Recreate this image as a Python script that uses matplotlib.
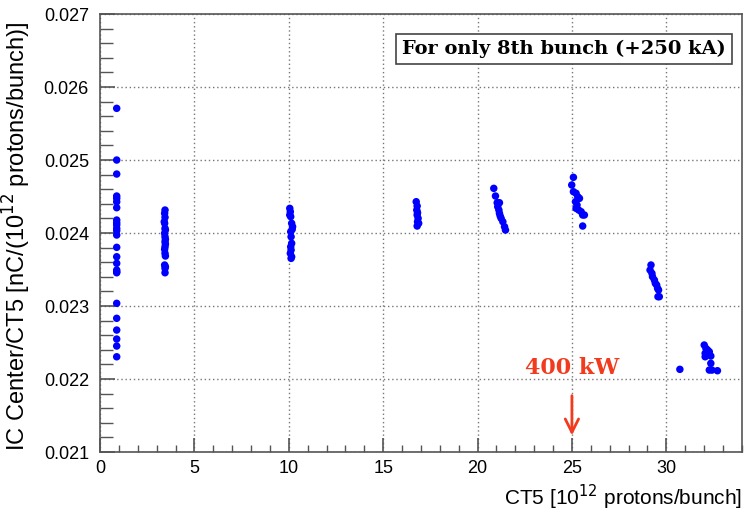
import numpy as np
import matplotlib
matplotlib.use("Agg")
import matplotlib.pyplot as plt
from matplotlib.ticker import MultipleLocator

# CT5 [1e12 protons/bunch] と IC Center/CT5 の値 (クラスタごと)
ct5_c1 = [0.88] * 25
ic_c1 = [0.025708, 0.025000, 0.024808, 0.024507, 0.024475, 0.024428, 0.024347,
         0.024178, 0.024141, 0.024110, 0.024064, 0.024032, 0.023973, 0.023804,
         0.023675, 0.023585, 0.023493, 0.023470, 0.023456, 0.023037, 0.022832,
         0.022671, 0.022548, 0.022452, 0.022305]

ct5_c2 = [3.44, 3.42, 3.44, 3.40, 3.42, 3.44, 3.46, 3.42, 3.44, 3.46,
          3.44, 3.46, 3.44, 3.42, 3.44, 3.46, 3.42, 3.46, 3.44, 3.44]
ic_c2 = [0.024315, 0.024270, 0.024215, 0.024155, 0.024133, 0.024064, 0.024041,
         0.023996, 0.023949, 0.023914, 0.023881, 0.023849, 0.023812, 0.023777,
         0.023722, 0.023685, 0.023562, 0.023538, 0.023516, 0.023456]

ct5_c3 = [10.05, 10.08, 10.05, 10.1, 10.15, 10.2, 10.18, 10.1, 10.12, 10.15,
          10.1, 10.12, 10.08, 10.15, 10.12]
ic_c3 = [0.024338, 0.024292, 0.024247, 0.024224, 0.024133, 0.024087, 0.024051,
         0.024018, 0.023949, 0.023859, 0.023812, 0.023767, 0.023722, 0.023675,
         0.023653]

ct5_c4 = [16.75, 16.8, 16.78, 16.82, 16.8, 16.85, 16.82, 16.88, 16.8]
ic_c4 = [0.024429, 0.024370, 0.024315, 0.024278, 0.024247, 0.024201, 0.024155,
         0.024133, 0.024096]

ct5_c5 = [20.86, 20.95, 21.04, 21.16, 21.07, 21.13, 21.16, 21.2, 21.25, 21.34,
          21.43, 21.48]
ic_c5 = [0.024612, 0.024507, 0.024415, 0.024415, 0.024360, 0.024315, 0.024270,
         0.024233, 0.024201, 0.024155, 0.024086, 0.024041]

ct5_c6 = [25.08, 24.99, 25.08, 25.22, 25.31, 25.4, 25.19, 25.27, 25.22, 25.36,
          25.49, 25.57, 25.66, 25.57]
ic_c6 = [0.024763, 0.024658, 0.024566, 0.024544, 0.024497, 0.024475, 0.024429,
         0.024384, 0.024338, 0.024315, 0.024292, 0.024247, 0.024247, 0.024096]

ct5_c7 = [29.19, 29.14, 29.24, 29.27, 29.37, 29.42, 29.49, 29.54, 29.59, 29.56,
          29.63]
ic_c7 = [0.023562, 0.023493, 0.023448, 0.023402, 0.023356, 0.023311, 0.023288,
         0.023242, 0.023219, 0.023128, 0.023128]

ct5_c8 = [30.72, 32.01, 32.1, 32.19, 32.06, 32.28, 32.36, 32.06, 32.36, 32.28,
          32.42, 32.71]
ic_c8 = [0.022133, 0.022466, 0.022420, 0.022397, 0.022352, 0.022374, 0.022315,
         0.022305, 0.022215, 0.022123, 0.022123, 0.022114]

ct5 = np.concatenate([ct5_c1, ct5_c2, ct5_c3, ct5_c4, ct5_c5, ct5_c6, ct5_c7, ct5_c8])
ic = np.concatenate([ic_c1, ic_c2, ic_c3, ic_c4, ic_c5, ic_c6, ic_c7, ic_c8])

plt.rcParams["font.family"] = ["Liberation Sans", "DejaVu Sans"]
serif = ["DejaVu Serif", "Liberation Serif"]

fig = plt.figure(figsize=(7.47, 5.19), dpi=100)
ax = fig.add_axes([0.134, 0.129, 0.859, 0.844])

ax.scatter(ct5, ic, s=29, color="#0000ff", edgecolors="none", zorder=3)

ax.set_xlim(0, 34)
ax.set_ylim(0.021, 0.027)
ax.xaxis.set_major_locator(MultipleLocator(5))
ax.xaxis.set_minor_locator(MultipleLocator(1))
ax.yaxis.set_major_locator(MultipleLocator(0.001))
ax.yaxis.set_minor_locator(MultipleLocator(0.0002))
ax.yaxis.set_major_formatter(plt.FuncFormatter(lambda v, p: f"{v:.3f}"))

edge = "#555555"
for s in ax.spines.values():
    s.set_color(edge)
    s.set_linewidth(1.2)
ax.tick_params(which="both", direction="in", colors=edge, labelcolor="black",
               labelsize=13, top=False, right=False)
ax.tick_params(axis="x", which="major", length=10, width=1.2, pad=6)
ax.tick_params(axis="x", which="minor", length=5, width=1.0)
ax.tick_params(axis="y", which="major", length=11, width=1.2, pad=8)
ax.tick_params(axis="y", which="minor", length=9, width=1.0)

ax.grid(True, which="major", linestyle=(0, (1, 2)), color="#777777", linewidth=1.0)

ax.set_xlabel("CT5 [10$^{12}$ protons/bunch]", fontsize=15, ha="right", x=1.0, labelpad=4)
ax.set_ylabel("IC Center/CT5 [nC/(10$^{12}$ protons/bunch)]", fontsize=17, ha="center")
ax.yaxis.set_label_coords(-0.105, 0.492)

ax.text(0.723, 0.92, "For only 8th bunch (+250 kA)", transform=ax.transAxes,
        ha="center", va="center", fontsize=14, fontweight="bold", family=serif,
        bbox=dict(boxstyle="square,pad=0.3", facecolor="white", edgecolor="#444444", linewidth=1.2),
        zorder=5)

ax.annotate("", xy=(25, 0.02119), xytext=(25, 0.02181),
            arrowprops=dict(arrowstyle="->", color="#f23b1e", lw=2.0, mutation_scale=24))
ax.text(25, 0.02215, "400 kW", color="#f23b1e", fontsize=16, fontweight="bold",
        family=serif, ha="center", va="center")

fig.savefig("out.png", dpi=100)
